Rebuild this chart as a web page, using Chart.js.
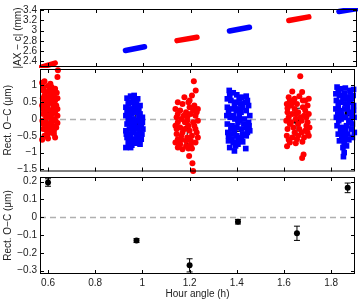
<!DOCTYPE html>
<html>
<head>
<meta charset="utf-8">
<script src="https://cdn.jsdelivr.net/npm/chart.js"></script>
<style>
  html, body { margin: 0; padding: 0; background: #fff; }
  #wrap { position: relative; width: 359px; height: 301px; }
  canvas { position: absolute; left: 0; top: 0; }
</style>
</head>
<body>
<div id="wrap">
  <canvas id="top" width="359" height="301"></canvas>
  <canvas id="mid" width="359" height="301"></canvas>
  <canvas id="bot" width="359" height="301"></canvas>
</div>
<script>
// ticks
const hourTicks = [0.6, 0.8, 1.0, 1.2, 1.4, 1.6, 1.8];
const sepTicks = [2.4, 2.6, 2.8, 3.0, 3.2, 3.4];
const midTicks = [-1.5, -1, -0.5, 0, 0.5, 1];
const botTicks = [-0.3, -0.2, -0.1, 0, 0.1, 0.2];

// top panel: |AX - c| runs, [start, end] as [hour, mm]
const sepRed = [
  [[0.572, 2.29], [0.630, 2.37]],
  [[1.143, 2.805], [1.227, 2.87]],
  [[1.614, 3.195], [1.698, 3.265]]
];
const sepBlue = [
  [[0.926, 2.614], [1.006, 2.686]],
  [[1.364, 2.99], [1.448, 3.065]],
  [[1.825, 3.37], [1.905, 3.43]]
];

// middle panel: individual residuals [hour, um]
const resRed1 = [[0.575,1.08],[0.585,1.12],[0.600,0.98],[0.615,0.95],[0.630,0.90],[0.580,0.85],[0.595,0.80],[0.610,0.75],[0.625,0.70],[0.640,0.62],[0.578,0.62],[0.590,0.55],[0.605,0.50],[0.620,0.45],[0.635,0.40],[0.575,0.40],[0.588,0.32],[0.600,0.28],[0.615,0.25],[0.630,0.18],[0.580,0.15],[0.595,0.10],[0.610,0.05],[0.625,0.00],[0.640,0.10],[0.576,-0.05],[0.590,-0.10],[0.605,-0.15],[0.620,-0.20],[0.635,-0.25],[0.580,-0.30],[0.595,-0.35],[0.610,-0.40],[0.625,-0.45],[0.585,-0.50],[0.600,-0.58],[0.575,-0.62],[0.630,-0.55],[0.640,1.25],[0.642,1.45],[0.600,0.65],[0.620,0.85],[0.585,0.70],[0.630,0.55],[0.598,0.40],[0.612,0.60],[0.590,0.00],[0.632,-0.05],[0.585,0.22],[0.622,0.32],
  [0.582,0.95],[0.607,0.88],[0.637,0.78],[0.600,0.12],[0.615,-0.05],[0.628,0.25],[0.580,-0.15],[0.608,-0.25],[0.625,-0.35],[0.598,-0.45],[0.615,0.15],[0.583,0.48],[0.620,0.58],[0.640,0.30],[0.640,-0.12],[0.610,1.05],[0.595,-0.20],[0.578,0.30]];
const resBlue1 = [[0.935,0.62],[0.950,0.68],[0.965,0.70],[0.980,0.60],[0.945,0.50],[0.960,0.55],[0.975,0.45],[0.990,0.40],[0.930,0.35],[0.945,0.30],[0.960,0.25],[0.975,0.20],[0.990,0.15],[1.000,0.05],[0.930,0.10],[0.945,0.05],[0.960,0.00],[0.985,-0.05],[0.935,-0.15],[0.950,-0.10],[0.965,-0.20],[0.980,-0.25],[0.995,-0.20],[0.930,-0.35],[0.945,-0.30],[0.960,-0.40],[0.975,-0.45],[0.990,-0.40],[1.002,-0.30],[0.935,-0.55],[0.950,-0.50],[0.965,-0.60],[0.980,-0.55],[0.995,-0.60],[0.940,-0.70],[0.955,-0.78],[0.930,-0.85],[0.975,-0.72],[0.990,-0.75],[1.000,-0.10],[0.970,0.35],[0.955,0.15],[0.985,0.25],[0.940,-0.05],[0.970,-0.05],[0.955,-0.25],
  [0.940,0.45],[0.965,0.40],[0.985,0.05],[0.945,-0.45],[0.970,-0.30],[0.990,-0.10],[0.950,0.25],[0.998,-0.45],[0.960,-0.65],[0.945,-0.62],[0.935,0.20],[0.968,0.60],[0.985,-0.65],[0.950,-0.85],[0.932,-0.45]];
const resRed2 = [[1.218,1.12],[1.226,0.85],[1.178,0.65],[1.210,0.70],[1.150,0.50],[1.170,0.45],[1.195,0.50],[1.220,0.40],[1.235,0.30],[1.140,0.30],[1.160,0.25],[1.185,0.20],[1.205,0.15],[1.225,0.10],[1.145,0.05],[1.165,0.00],[1.190,-0.05],[1.215,-0.10],[1.235,-0.05],[1.140,-0.20],[1.160,-0.25],[1.180,-0.30],[1.200,-0.35],[1.225,-0.30],[1.145,-0.45],[1.165,-0.50],[1.190,-0.55],[1.210,-0.50],[1.235,-0.55],[1.140,-0.70],[1.160,-0.75],[1.185,-0.80],[1.205,-0.78],[1.225,-0.70],[1.170,-0.90],[1.195,-0.88],[1.150,-0.85],[1.198,-1.10],[1.212,-1.32],[1.215,-1.55],[1.175,0.10],[1.200,0.35],[1.150,-0.60],[1.220,-0.20],[1.180,-0.10],[1.205,-0.65],
  [1.150,0.15],[1.190,0.05],[1.215,0.25],[1.230,-0.40],[1.170,-0.40],[1.195,-0.20],[1.150,-0.10],[1.210,-0.88],[1.185,-0.65],[1.165,-0.62],[1.230,0.20],[1.145,-0.30],[1.200,0.55]];
const resBlue2 = [[1.368,0.85],[1.385,0.78],[1.400,0.72],[1.420,0.65],[1.440,0.68],[1.360,0.60],[1.375,0.55],[1.395,0.50],[1.415,0.45],[1.435,0.50],[1.450,0.40],[1.360,0.35],[1.378,0.30],[1.398,0.25],[1.418,0.20],[1.440,0.25],[1.455,0.10],[1.358,0.10],[1.372,0.05],[1.392,0.00],[1.412,-0.05],[1.432,0.00],[1.450,-0.10],[1.360,-0.15],[1.380,-0.20],[1.400,-0.25],[1.420,-0.30],[1.440,-0.25],[1.455,-0.35],[1.362,-0.40],[1.380,-0.45],[1.400,-0.50],[1.420,-0.55],[1.440,-0.50],[1.365,-0.65],[1.385,-0.70],[1.405,-0.75],[1.425,-0.68],[1.370,-0.85],[1.390,-0.95],[1.438,-0.88],[1.410,0.10],[1.390,0.40],[1.430,-0.15],[1.375,-0.30],[1.405,-0.62],
  [1.370,0.70],[1.410,0.60],[1.445,0.55],[1.365,0.20],[1.385,0.10],[1.425,0.35],[1.405,-0.10],[1.445,-0.40],[1.390,-0.35],[1.365,-0.50],[1.425,-0.45],[1.405,0.30],[1.380,-0.60],[1.395,-0.80],[1.452,-0.20]];
const resRed3 = [[1.669,1.27],[1.635,0.82],[1.677,0.80],[1.620,0.65],[1.645,0.60],[1.665,0.68],[1.690,0.55],[1.705,0.60],[1.612,0.45],[1.630,0.40],[1.655,0.45],[1.680,0.35],[1.700,0.40],[1.615,0.20],[1.635,0.15],[1.660,0.20],[1.685,0.10],[1.705,0.15],[1.610,-0.05],[1.630,-0.10],[1.650,0.00],[1.675,-0.05],[1.700,-0.10],[1.615,-0.30],[1.640,-0.25],[1.665,-0.30],[1.690,-0.35],[1.708,-0.25],[1.612,-0.50],[1.635,-0.55],[1.660,-0.50],[1.685,-0.55],[1.705,-0.50],[1.625,-0.70],[1.650,-0.72],[1.678,-0.68],[1.613,-0.81],[1.683,-1.06],[1.677,-1.16],[1.645,0.30],[1.695,-0.20],[1.620,0.05],[1.660,-0.15],[1.680,0.55],
  [1.625,0.55],[1.650,0.15],[1.670,0.05],[1.690,0.25],[1.625,-0.15],[1.645,-0.40],[1.675,-0.40],[1.700,-0.40],[1.620,-0.62],[1.695,0.05],[1.655,-0.60],[1.640,0.50],[1.615,0.32]];
const resBlue3 = [[1.825,0.95],[1.840,0.90],[1.860,0.92],[1.880,0.85],[1.895,0.88],[1.820,0.75],[1.835,0.70],[1.855,0.75],[1.875,0.65],[1.893,0.70],[1.822,0.55],[1.840,0.50],[1.860,0.45],[1.880,0.50],[1.895,0.40],[1.820,0.30],[1.838,0.25],[1.858,0.30],[1.878,0.20],[1.895,0.25],[1.822,0.05],[1.842,0.00],[1.862,0.05],[1.882,-0.05],[1.897,0.05],[1.825,-0.20],[1.845,-0.25],[1.865,-0.20],[1.885,-0.30],[1.830,-0.45],[1.850,-0.50],[1.870,-0.45],[1.890,-0.55],[1.835,-0.65],[1.855,-0.70],[1.875,-0.62],[1.850,-0.85],[1.855,-1.00],[1.852,-1.12],[1.845,0.15],[1.870,0.60],[1.888,0.10],[1.832,-0.05],[1.860,-0.35],
  [1.830,0.85],[1.850,0.60],[1.888,0.60],[1.830,0.40],[1.870,0.35],[1.850,0.05],[1.890,-0.15],[1.840,-0.35],[1.875,-0.10],[1.898,-0.40],[1.845,-0.60],[1.865,-0.80],[1.828,0.15],[1.880,0.80],[1.860,-0.55]];

// per-run mean and scatter
const midHour = [0.600, 0.970, 1.190, 1.405, 1.655, 1.870];
const midMean = [0.22, -0.13, -0.27, -0.02, -0.08, 0.17];
const midErr = [0.40, 0.30, 0.47, 0.35, 0.40, 0.38];

// bottom panel: mean with error of the mean
const botHour = [0.600, 0.975, 1.200, 1.405, 1.655, 1.870];
const botMean = [0.195, -0.131, -0.270, -0.025, -0.090, 0.165];
const botErr = [0.021, 0.011, 0.037, 0.013, 0.040, 0.027];

Chart.defaults.font.family = '"Liberation Sans", Arial, sans-serif';
Chart.defaults.font.size = 10;
Chart.defaults.color = '#222';
Chart.defaults.animation = false;

const fmt = v => String(+v.toFixed(2)).replace('-', '\u2212');
const pts = arr => arr.map(p => ({x: p[0], y: p[1]}));

const frame = {
  id: 'frame',
  beforeDatasetsDraw(chart) {
    if (!chart.options.plugins.frame.zero) return;
    const {ctx, chartArea: a, scales: {y}} = chart;
    const py = Math.round(y.getPixelForValue(0)) + 0.5;
    ctx.save();
    ctx.strokeStyle = '#b0b0b0';
    ctx.lineWidth = 1.3;
    ctx.setLineDash([6, 4]);
    ctx.beginPath();
    ctx.moveTo(a.left, py);
    ctx.lineTo(a.right, py);
    ctx.stroke();
    ctx.restore();
  },
  beforeDatasetDraw(chart, args) {
    const ds = chart.data.datasets[args.index];
    if (!ds.errs) return;
    const {ctx, scales: {x, y}} = chart;
    ctx.save();
    ctx.strokeStyle = '#000';
    ctx.lineWidth = 1;
    ds.data.forEach((p, i) => {
      const px = x.getPixelForValue(p.x);
      const y1 = y.getPixelForValue(p.y + ds.errs[i]);
      const y2 = y.getPixelForValue(p.y - ds.errs[i]);
      ctx.beginPath();
      ctx.moveTo(px, y1); ctx.lineTo(px, y2);
      ctx.moveTo(px - 3, y1); ctx.lineTo(px + 3, y1);
      ctx.moveTo(px - 3, y2); ctx.lineTo(px + 3, y2);
      ctx.stroke();
    });
    ctx.restore();
  },
  afterDraw(chart) {
    const {ctx, chartArea: a, scales: {x, y}} = chart;
    ctx.save();
    ctx.strokeStyle = '#000';
    ctx.lineWidth = 1;
    ctx.strokeRect(a.left + 0.5, a.top + 0.5, a.right - a.left - 1, a.bottom - a.top - 1);
    ctx.beginPath();
    hourTicks.forEach(v => {
      const px = Math.round(x.getPixelForValue(v)) + 0.5;
      ctx.moveTo(px, a.bottom); ctx.lineTo(px, a.bottom - 4);
      ctx.moveTo(px, a.top); ctx.lineTo(px, a.top + 4);
    });
    y.ticks.forEach(t => {
      const py = Math.round(y.getPixelForValue(t.value)) + 0.5;
      ctx.moveTo(a.left, py); ctx.lineTo(a.left + 4, py);
      ctx.moveTo(a.right, py); ctx.lineTo(a.right - 4, py);
    });
    ctx.stroke();
    ctx.restore();
  }
};

function xAxis(show) {
  return {
    type: 'linear', min: 0.566, max: 1.901, display: show,
    afterBuildTicks: s => { s.ticks = hourTicks.map(v => ({value: v})); },
    afterFit: s => { if (show) s.height = 27; },
    grid: {display: false, drawTicks: false},
    border: {display: false},
    ticks: {padding: 3, autoSkip: false, maxRotation: 0, callback: v => fmt(v)},
    title: {display: true, text: 'Hour angle (h)', padding: {top: 0, bottom: 1}}
  };
}

function yAxis(min, max, ticks, title, width) {
  return {
    type: 'linear', min, max,
    afterBuildTicks: s => { s.ticks = ticks.map(v => ({value: v})); },
    afterFit: s => { s.width = width; },
    grid: {display: false, drawTicks: false},
    border: {display: false},
    ticks: {padding: 3, autoSkip: false, callback: v => fmt(v)},
    title: {display: true, text: title, padding: 0}
  };
}

function makeChart(id, datasets, padding, yScale, showX, zero) {
  return new Chart(document.getElementById(id), {
    type: 'scatter',
    data: {datasets},
    options: {
      responsive: false,
      layout: {padding},
      scales: {x: xAxis(showX), y: yScale},
      plugins: {legend: {display: false}, tooltip: {enabled: false}, frame: {zero}}
    },
    plugins: [frame]
  });
}

const runLine = (run, color) => ({
  data: pts(run), showLine: true, borderColor: color, borderWidth: 5.5,
  borderCapStyle: 'round', pointRadius: 0, clip: 1
});

makeChart('top',
  [...sepRed.map(r => runLine(r, '#ff0000')), ...sepBlue.map(r => runLine(r, '#0000ff'))],
  {left: 12, top: 4, right: 2, bottom: 234},
  yAxis(2.293, 3.418, sepTicks, '|AX \u2212 c| (mm)', 28), false, false);

const redCloud = d => ({data: pts(d), pointStyle: 'circle', pointRadius: 3.0, backgroundColor: '#ff0000', borderWidth: 0, clip: false});
const blueCloud = d => ({data: pts(d), pointStyle: 'rect', pointRadius: 4.0, backgroundColor: '#0000ff', borderWidth: 0, clip: false});

makeChart('mid',
  [redCloud(resRed1), blueCloud(resBlue1), redCloud(resRed2), blueCloud(resBlue2), redCloud(resRed3), blueCloud(resBlue3),
   {data: midHour.map((h, i) => ({x: h, y: midMean[i]})), errs: midErr, pointRadius: 3, backgroundColor: '#000', borderWidth: 0}],
  {left: 2.5, top: 69, right: 2, bottom: 129.5},
  yAxis(-1.5625, 1.488, midTicks, 'Rect. O\u2212C (\u03bcm)', 37.5), false, true);

makeChart('bot',
  [{data: botHour.map((h, i) => ({x: h, y: botMean[i]})), errs: botErr, pointRadius: 3, backgroundColor: '#000', borderWidth: 0}],
  {left: 2.5, top: 177, right: 2, bottom: 0},
  yAxis(-0.3185, 0.226, botTicks, 'Rect. O\u2212C (\u03bcm)', 37.5), true, true);
</script>
</body>
</html>
